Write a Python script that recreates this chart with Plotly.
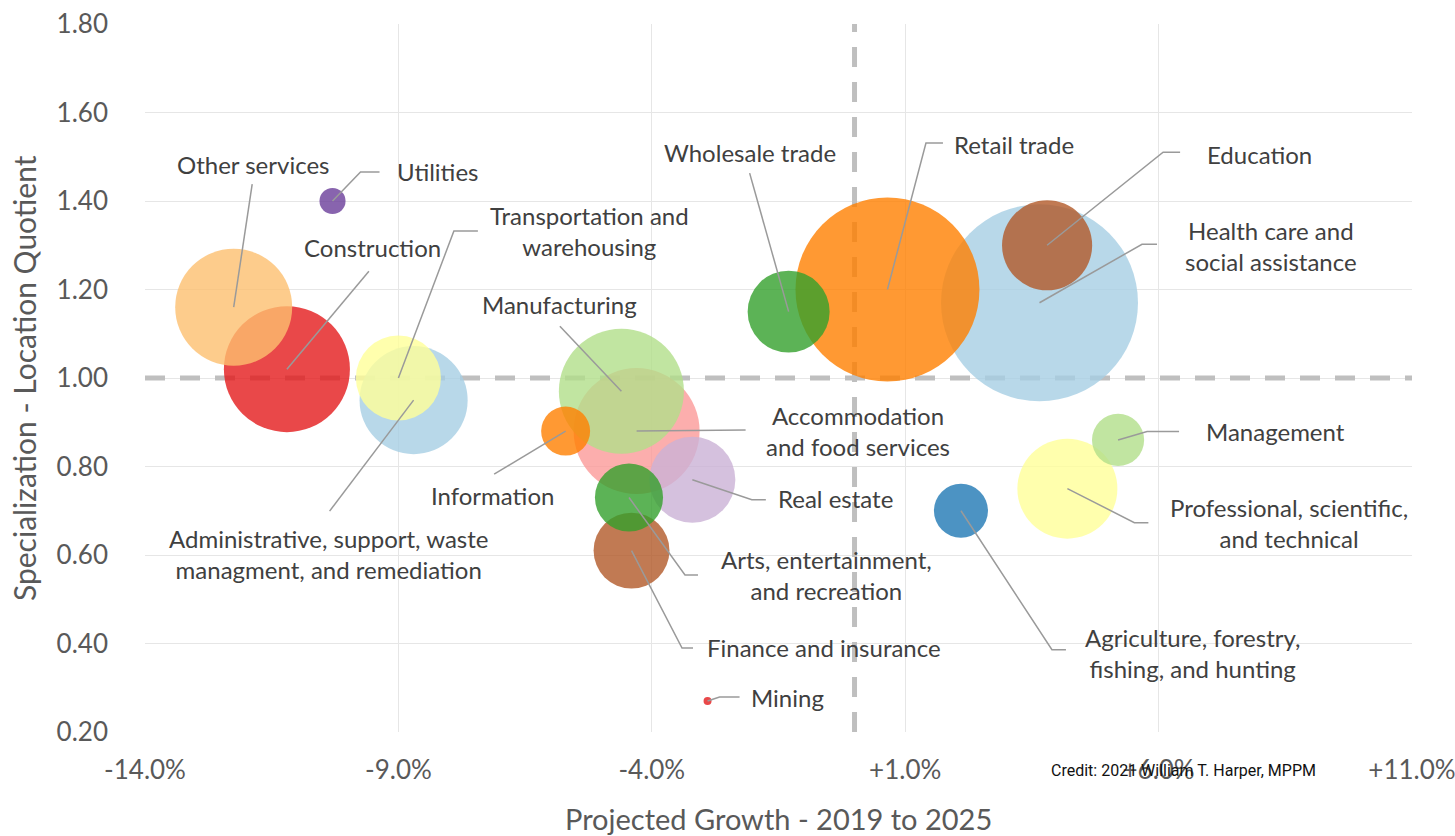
import plotly.graph_objects as go

# ---------------- data ----------------
industries = [
    "Agriculture, forestry, fishing, and hunting",
    "Mining",
    "Utilities",
    "Construction",
    "Manufacturing",
    "Wholesale trade",
    "Retail trade",
    "Transportation and warehousing",
    "Information",
    "Finance and insurance",
    "Real estate",
    "Professional, scientific, and technical",
    "Management",
    "Administrative, support, waste managment, and remediation",
    "Education",
    "Health care and social assistance",
    "Arts, entertainment, and recreation",
    "Accommodation and food services",
    "Other services",
]
growth_pct = [2.1, -2.9, -10.3, -11.2, -4.6, -1.3, 0.65, -9.0, -5.7, -4.4,
              -3.2, 4.2, 5.2, -8.7, 3.8, 3.65, -4.45, -4.3, -12.25]
location_quotient = [0.70, 0.27, 1.40, 1.02, 0.97, 1.15, 1.20, 1.00, 0.88, 0.61,
                     0.77, 0.75, 0.86, 0.95, 1.30, 1.17, 0.73, 0.88, 1.16]
employment_k = [7.3, 0.16, 1.7, 39.7, 39.1, 16.8, 84.6, 18.1, 6.0, 14.4,
                18.5, 25.0, 6.8, 29.2, 20.3, 97.0, 11.6, 39.7, 34.2]
bubble_colors = ["#1f78b4", "#e31a1c", "#6a3d9a", "#e31a1c", "#b2df8a", "#33a02c",
                 "#ff7f00", "#ffff99", "#ff7f00", "#b15928", "#cab2d6", "#ffff99",
                 "#b2df8a", "#a6cee3", "#b15928", "#a6cee3", "#33a02c", "#fb9a99",
                 "#fdbf6f"]
label_text = [
    "Agriculture, forestry,<br>fishing, and hunting",
    "Mining",
    "Utilities",
    "Construction",
    "Manufacturing",
    "Wholesale trade",
    "Retail trade",
    "Transportation and<br>warehousing",
    "Information",
    "Finance and insurance",
    "Real estate",
    "Professional, scientific,<br>and technical",
    "Management",
    "Administrative, support, waste<br>managment, and remediation",
    "Education",
    "Health care and<br>social assistance",
    "Arts, entertainment,<br>and recreation",
    "Accommodation<br>and food services",
    "Other services",
]
x_tick_vals = [-14, -9, -4, 1, 6, 11]
x_tick_text = ["-14.0%", "-9.0%", "-4.0%", "+1.0%", "+6.0%", "+11.0%"]
y_tick_vals = [0.2, 0.4, 0.6, 0.8, 1.0, 1.2, 1.4, 1.6, 1.8]
x_ref_line = 0.0
y_ref_line = 1.0

# ---------------- layout helpers ----------------
W, H = 1455, 836
M_L, M_R, M_T, M_B = 145, 43, 24, 104
X_RANGE = (-14, 11)
Y_RANGE = (0.2, 1.8)
PX_X = (W - M_L - M_R) / (X_RANGE[1] - X_RANGE[0])
PX_Y = (H - M_T - M_B) / (Y_RANGE[1] - Y_RANGE[0])

# label placement: text offset (px) and leader-line bend points (px), relative to bubble centre
label_layout = [
    ((232, 142.5), [(91, 139), (105, 139)]),
    ((80, -4), [(12, -4), (32, -4)]),
    ((105, -30), [(28, -29), (47, -29)]),
    ((86, -122), [(82, -98)]),
    ((-61.5, -87), [(-61.5, -65)]),
    ((-38.5, -159.5), [(-39, -138.5)]),
    ((126.5, -145), [(38.5, -146.5), (55.5, -146.5)]),
    ((191.5, -147), [(55.5, -147), (79.5, -147)]),
    ((-73.5, 64), [(-71.5, 43)]),
    ((192.5, 96.5), [(50.5, 97.5), (61.5, 97.5)]),
    ((143.5, 19), [(59.5, 20), (73.5, 20)]),
    ((222, 34.5), [(67, 34), (81, 34)]),
    ((157, -8.5), [(29, -8.5), (61, -8.5)]),
    ((-85, 154), [(-84, 111)]),
    ((212, -91), [(116, -93), (133, -93)]),
    ((231.5, -56.5), [(102.5, -58.5), (117.5, -58.5)]),
    ((198, 78), [(56, 77.5), (69, 77.5)]),
    ((221, 0), [(109, -1)]),
    ((19.5, -143), [(18.5, -123)]),
]


def offset(x, y, dx, dy):
    return x + dx / PX_X, y - dy / PX_Y


FONT = "Lato, 'Open Sans', sans-serif"
DASH_STYLE = dict(color="#bfbfbf", width=5, dash="20px,15px")

fig = go.Figure()

# reference lines (drawn under the bubbles, above the grid)
fig.add_trace(go.Scatter(x=[x_ref_line, x_ref_line], y=list(Y_RANGE), mode="lines",
                         line=DASH_STYLE, hoverinfo="skip", showlegend=False))
fig.add_trace(go.Scatter(x=list(X_RANGE), y=[y_ref_line, y_ref_line], mode="lines",
                         line=DASH_STYLE, hoverinfo="skip", showlegend=False))

# draw larger bubbles first
order = sorted(range(len(industries)), key=lambda i: -employment_k[i])
fig.add_trace(go.Scatter(
    x=[growth_pct[i] for i in order],
    y=[location_quotient[i] for i in order],
    mode="markers",
    text=[industries[i] for i in order],
    hovertemplate="%{text}<br>Growth: %{x:.1f}%<br>LQ: %{y:.2f}<extra></extra>",
    marker=dict(
        size=[employment_k[i] for i in order],
        sizemode="area",
        sizeref=0.005,
        sizemin=3,
        color=[bubble_colors[i] for i in order],
        opacity=0.8,
        line=dict(width=0),
    ),
    showlegend=False,
))

shapes = []
annotations = []
for i, name in enumerate(industries):
    cx, cy = growth_pct[i], location_quotient[i]
    (tdx, tdy), bends = label_layout[i]
    tx, ty = offset(cx, cy, tdx, tdy)
    annotations.append(dict(
        x=tx, y=ty, xref="x", yref="y", text=label_text[i], showarrow=False,
        font=dict(family=FONT, size=24, color="#404040"), align="center",
        xanchor="center", yanchor="middle",
    ))
    pts = [(cx, cy)] + [offset(cx, cy, dx, dy) for dx, dy in bends]
    path = "M " + " L ".join(f"{px},{py}" for px, py in pts)
    shapes.append(dict(type="path", xref="x", yref="y", path=path,
                       line=dict(color="#9a9a9a", width=1.5), layer="above"))

# axis titles and credit
annotations.append(dict(
    x=0.5, y=-(819 - (H - M_B)) / (H - M_T - M_B), xref="paper", yref="paper",
    text="Projected Growth - 2019 to 2025", showarrow=False,
    font=dict(family=FONT, size=29, color="#595959"), xanchor="center", yanchor="middle"))
annotations.append(dict(
    x=-(M_L - 24) / (W - M_L - M_R), y=0.5, xref="paper", yref="paper",
    text="Specialization - Location Quotient", showarrow=False, textangle=-90,
    font=dict(family=FONT, size=30, color="#595959"), xanchor="center", yanchor="middle"))
annotations.append(dict(
    x=(1183 - M_L) / (W - M_L - M_R), y=-(770 - (H - M_B)) / (H - M_T - M_B),
    xref="paper", yref="paper", text="Credit: 2021 William T. Harper, MPPM",
    showarrow=False, font=dict(family="Roboto, sans-serif", size=16, color="#111111"),
    xanchor="center", yanchor="middle"))

fig.update_layout(
    width=W, height=H,
    margin=dict(l=M_L, r=M_R, t=M_T, b=M_B, autoexpand=False),
    paper_bgcolor="white", plot_bgcolor="white",
    xaxis=dict(range=list(X_RANGE), tickvals=x_tick_vals, ticktext=x_tick_text,
               showgrid=True, gridcolor="#e6e6e6", gridwidth=1, zeroline=False,
               showline=False, ticks="", ticklabelstandoff=20,
               ticklabeloverflow="allow", automargin=False,
               tickfont=dict(family=FONT, size=26, color="#595959")),
    yaxis=dict(range=list(Y_RANGE), tickvals=y_tick_vals, tickformat=".2f",
               showgrid=True, gridcolor="#e6e6e6", gridwidth=1, zeroline=False,
               showline=False, ticks="", ticklabelstandoff=36, automargin=False,
               tickfont=dict(family=FONT, size=26, color="#595959")),
    shapes=shapes,
    annotations=annotations,
    hovermode="closest",
)

fig.write_html(
    "out.html",
    config={"displayModeBar": False},
    post_script="document.body.style.margin='0';document.body.style.overflow='hidden';",
)
